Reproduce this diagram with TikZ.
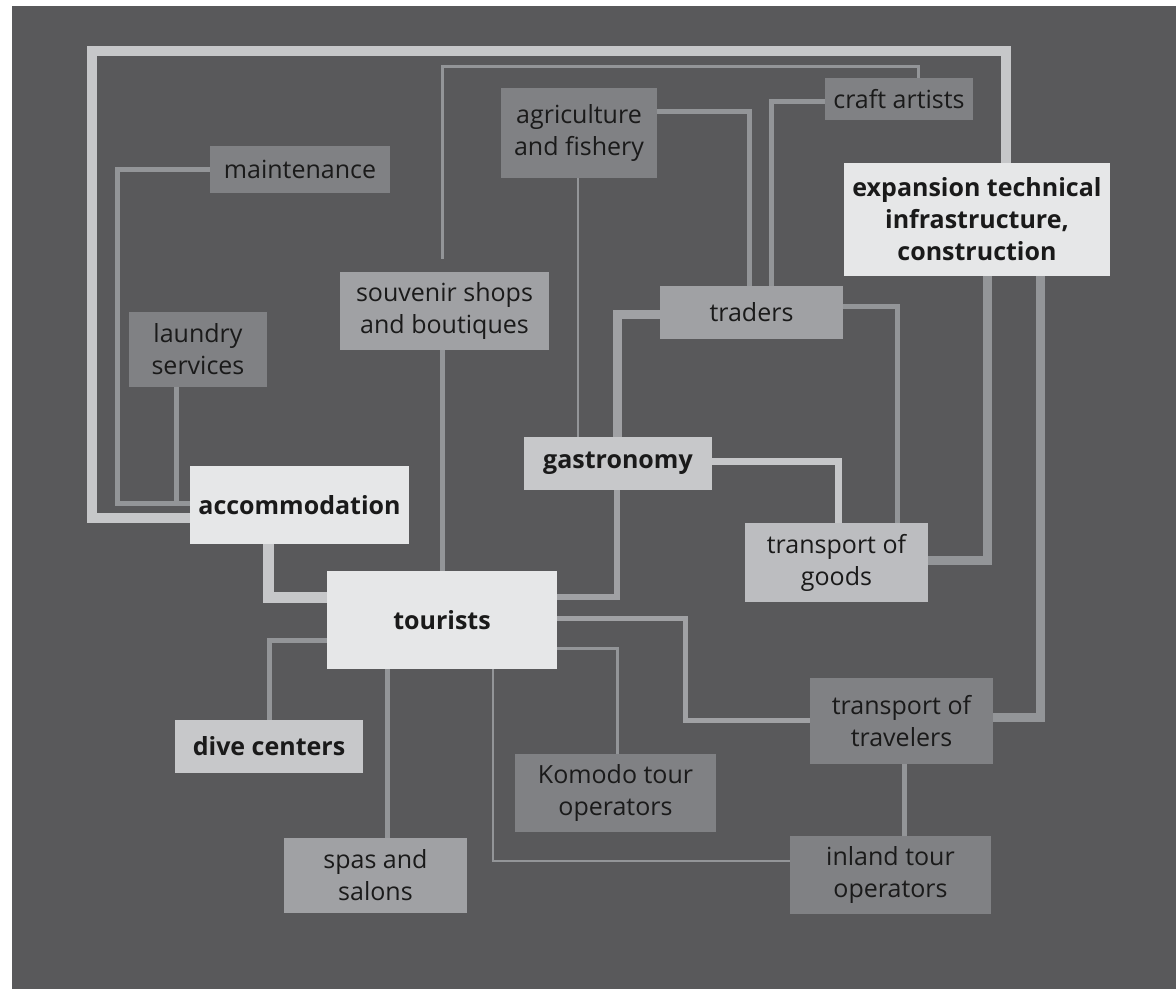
\documentclass[tikz,border=0pt]{standalone}
\usepackage{fontspec}
\setmainfont{Open Sans}
\usetikzlibrary{calc}
\definecolor{bgdark}{HTML}{59595B}
\definecolor{boxA}{HTML}{E6E7E8}
\definecolor{boxB}{HTML}{C7C8CA}
\definecolor{boxBb}{HTML}{BCBDC0}
\definecolor{boxC}{HTML}{A0A1A4}
\definecolor{boxD}{HTML}{808184}
\definecolor{lnLight}{HTML}{C6C7C9}
\definecolor{lnMid}{HTML}{A0A1A4}
\definecolor{lnDark}{HTML}{939598}
\definecolor{ink}{HTML}{1A1A1A}
\pgfdeclarelayer{back}
\pgfdeclarelayer{lines}
\pgfsetlayers{back,lines,main}
\tikzset{
  box/.style={rectangle, inner sep=0pt, align=center, text=ink,
    font=\fontsize{25}{32}\selectfont},
  strong/.style={box, font=\fontsize{25}{32}\selectfont\bfseries},
  wire/.style={line join=miter, line cap=butt},
  w2/.style={wire, draw=lnDark, line width=2pt},
  w3/.style={wire, draw=lnDark, line width=3pt},
  w5/.style={wire, draw=lnDark, line width=5pt},
  w6/.style={wire, draw=lnMid, line width=6pt},
  w9/.style={wire, draw=lnDark, line width=9pt},
}
\begin{document}
\begin{tikzpicture}[x=1pt, y=-1pt]
\useasboundingbox (0,0) rectangle (1176,989);
\begin{pgfonlayer}{back}
  \fill[white] (0,0) rectangle (1176,989);
  \fill[bgdark] (12,6) rectangle (1176,989);
\end{pgfonlayer}

% boxes
\node[box, fill=boxD, minimum width=180pt, minimum height=47pt] (maint) at (300,169.5) {maintenance};
\node[box, fill=boxD, minimum width=138pt, minimum height=75pt] (laundry) at (198,349.5) {laundry\\services};
\node[strong, fill=boxA, minimum width=219pt, minimum height=78pt] (accom) at (299.5,505) {accommodation};
\node[strong, fill=boxA, minimum width=230pt, minimum height=98pt] (tourists) at (442,620) {tourists};
\node[strong, fill=boxB, minimum width=188pt, minimum height=53pt] (dive) at (269,746.5) {dive centers};
\node[box, fill=boxC, minimum width=183pt, minimum height=75pt] (spas) at (375.5,875.5) {spas and\\salons};
\node[box, fill=boxC, minimum width=209pt, minimum height=78pt] (souvenir) at (444.5,311) {souvenir shops\\and boutiques};
\node[strong, fill=boxB, minimum width=188pt, minimum height=53pt] (gastro) at (618,463.5) {gastronomy};
\node[box, fill=boxC, minimum width=183pt, minimum height=53pt] (traders) at (751.5,312.5) {traders};
\node[box, fill=boxD, minimum width=156pt, minimum height=90pt] (agri) at (579,133) {agriculture\\and fishery};
\node[box, fill=boxD, minimum width=148pt, minimum height=42pt] (craft) at (899,99) {craft artists};
\node[strong, fill=boxA, minimum width=266pt, minimum height=113pt] (expansion) at (977,219.5) {expansion technical\\infrastructure,\\construction};
\node[box, fill=boxBb, minimum width=183pt, minimum height=79pt] (goods) at (836.5,562.5) {transport of\\goods};
\node[box, fill=boxD, minimum width=183pt, minimum height=86pt] (travelers) at (901.5,721) {transport of\\travelers};
\node[box, fill=boxD, minimum width=201pt, minimum height=78pt] (komodo) at (615.5,793) {Komodo tour\\operators};
\node[box, fill=boxD, minimum width=201pt, minimum height=78pt] (inland) at (890.5,875) {inland tour\\operators};

% bend points of the connectors
\coordinate (f1) at (92,518);
\coordinate (f2) at (92,51);
\coordinate (f3) at (1006,51);
\coordinate (m1) at (117,503);
\coordinate (l1) at (176.5,503);
\coordinate (a1) at (268,597);
\coordinate (d1) at (268,640);
\coordinate (i1) at (493,861);
\coordinate (s0) at (442,259);
\coordinate (s1) at (442,66);
\coordinate (s2) at (918,66);
\coordinate (g1) at (617,597);
\coordinate (t1) at (685.5,618);
\coordinate (t2) at (685.5,720.5);
\coordinate (k1) at (617,648.5);

\begin{pgfonlayer}{lines}
  % outer frame: accommodation to construction
  \draw[wire, draw=lnLight, line width=10pt]
    (accom.west |- f1) -- (f1) -- (f2) -- (f3) -- (f3 |- expansion.north);
  % accommodation cluster
  \draw[w5] (maint.west) -| (m1) -- (accom.west |- m1);
  \draw[w5] (laundry.south -| l1) -- (l1);
  \draw[wire, draw=lnLight, line width=11pt]
    (accom.south -| a1) -- (a1) -- (tourists.west |- a1);
  % tourists to services
  \draw[w5] (tourists.west |- d1) -| (dive.north);
  \draw[w5] (tourists.south -| 387.5,0) -- (spas.north -| 387.5,0);
  \draw[w2] (tourists.south -| i1) -- (i1) -- (inland.west |- i1);
  \draw[w5] (tourists.north -| 442,0) -- (souvenir.south -| 442,0);
  \draw[w3] (s0) -- (s1) -- (s2) -- (craft.north -| s2);
  \draw[w6, line width=5pt] (tourists.east |- t1) -- (t1) -- (t2) -- (travelers.west |- t2);
  \draw[w3] (tourists.east |- k1) -- (k1) -- (komodo.north -| k1);
  % suppliers and traders
  \draw[w2] (agri.south -| 578,0) -- (gastro.north -| 578,0);
  \draw[w5] (agri.east |- 0,111.5) -| (traders.north -| 749.5,0);
  \draw[w5] (craft.west |- 0,101.5) -| (traders.north -| 771.5,0);
  \draw[wire, draw=lnMid, line width=9pt] (traders.west |- 0,314) -| (gastro.north -| 617.5,0);
  \draw[w5] (traders.east |- 0,306) -| (goods.north -| 897.5,0);
  \draw[wire, draw=lnLight, line width=7pt] (gastro.east |- 0,461.5) -| (goods.north -| 838.5,0);
  \draw[w6] (gastro.south -| g1) -- (g1) -- (tourists.east |- g1);
  % transport and construction
  \draw[w9] (goods.east |- 0,560.5) -| (expansion.south -| 987.5,0);
  \draw[w9] (travelers.east |- 0,717.5) -| (expansion.south -| 1040,0);
  \draw[w5] (travelers.south -| 904.5,0) -- (inland.north -| 904.5,0);
\end{pgfonlayer}
\end{tikzpicture}
\end{document}
